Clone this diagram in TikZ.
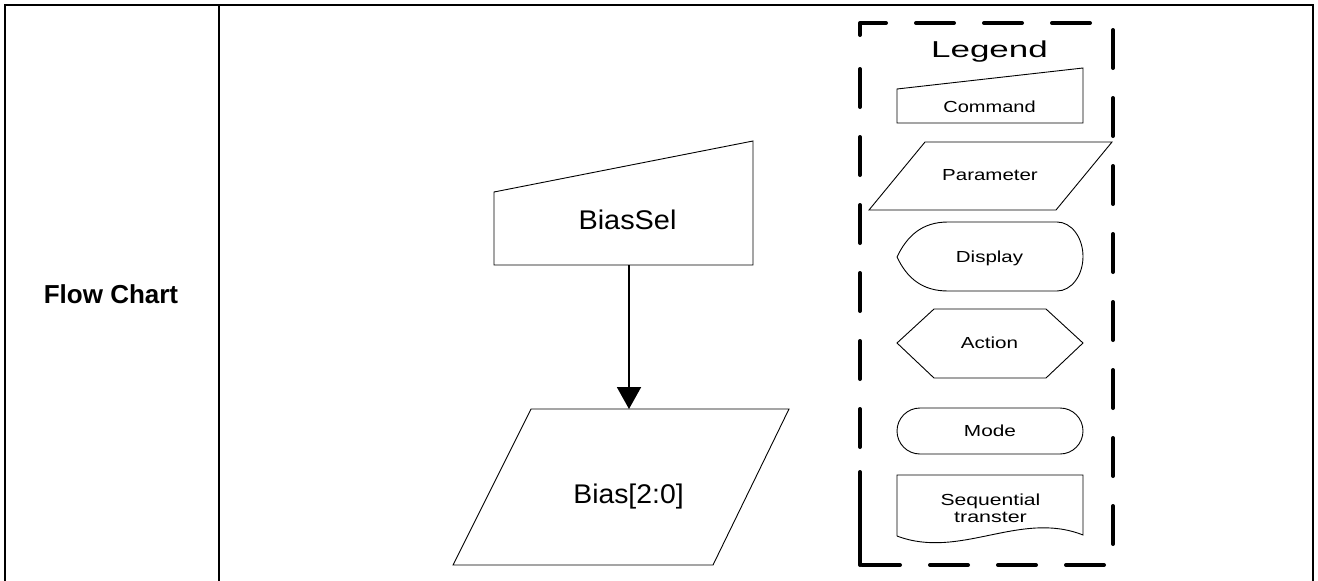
\documentclass[tikz,border=0pt]{standalone}
\usepackage{fontspec}
\setmainfont{Liberation Sans}
\usepackage{graphicx}
\usetikzlibrary{arrows.meta}
\begin{document}
\begin{tikzpicture}[x=1pt,y=-1pt,
  shapeline/.style={draw=black,line width=0.9pt,line join=miter},
  tableline/.style={draw=black,line width=2.4pt,line join=miter},
  lgbox/.style={draw=black,line width=4pt,line cap=round,line join=round,dash pattern=on 38pt off 30pt},
  lgsolid/.style={draw=black,line width=4pt,line cap=round},
  flowarrow/.style={draw=black,line width=2pt,-{Triangle[length=22pt,width=24pt]}},
  txt/.style={anchor=base,inner sep=0pt,outer sep=0pt},
  bigtxt/.style={txt,font=\fontsize{27}{27}\selectfont},
  smalltxt/.style={txt,font=\fontsize{16}{16}\selectfont},
  titletxt/.style={txt,font=\fontsize{23}{23}\selectfont},
  headtxt/.style={txt,font=\bfseries\fontsize{26}{26}\selectfont},
]
\useasboundingbox (0,0) rectangle (1318,581);
\fill[white] (0,0) rectangle (1318,581);

% table
\draw[tableline] (5,581) -- (5,5) -- (1313,5) -- (1313,581);
\draw[tableline] (219,5) -- (219,581);
\node[headtxt] (flowchart) at (111,303) {Flow Chart};

% main flow
\draw[shapeline] (494,192) -- (753,141) -- (753,265) -- (494,265) -- cycle;
\node[bigtxt] (biassel) at (627.5,229) {\scalebox{1.07}[1]{BiasSel}};
\draw[shapeline] (531,409) -- (789,409) -- (713,565) -- (453,565) -- cycle;
\node[bigtxt] (bias) at (628.5,503) {\scalebox{1.05}[1]{Bias[2:0]}};
\coordinate (bsbot) at (629,265);
\coordinate (btop) at (629,409);
\draw[flowarrow] (bsbot) -- (btop);

% legend box
\draw[lgbox] (860,35) -- (860,23) -- (1113,23) -- (1113,565) -- (860,565);
\draw[lgsolid] (860,565) -- (860,472);
\draw[lgbox] (860,447) -- (860,62);
\node[titletxt] (legend) at (989.5,57) {\scalebox{1.52}[1]{Legend}};

% command
\draw[shapeline] (897,89) -- (1083,68) -- (1083,123) -- (897,123) -- cycle;
\node[smalltxt] (cmd) at (989.5,112) {\scalebox{1.25}[1]{Command}};

% parameter
\draw[shapeline] (925,142) -- (1112,142) -- (1056,210) -- (869,210) -- cycle;
\node[smalltxt] (param) at (990,180) {\scalebox{1.28}[1]{Parameter}};

% display
\draw[shapeline] (897,257) .. controls (907,236) and (922,222) .. (948,222)
  -- (1057,222) arc[start angle=-90,end angle=90,x radius=26,y radius=34.5]
  -- (948,291) .. controls (922,291) and (907,278) .. cycle;
\node[smalltxt] (disp) at (989.5,262) {\scalebox{1.28}[1]{Display}};

% action
\draw[shapeline] (897,343) -- (934,309) -- (1046,309) -- (1083,343) -- (1046,378) -- (934,378) -- cycle;
\node[smalltxt] (act) at (989.5,348) {\scalebox{1.29}[1]{Action}};

% mode
\draw[shapeline,rounded corners=23pt] (897,408) rectangle (1083,454);
\node[smalltxt] (mode) at (990,436) {\scalebox{1.3}[1]{Mode}};

% sequential transfer
\draw[shapeline] (897,536) -- (897,475) -- (1083,475) -- (1083,535)
  .. controls (1020,510) and (960,560) .. (897,536);
\node[smalltxt] (seqa) at (990.5,505) {\scalebox{1.32}[1]{Sequential}};
\node[smalltxt] (seqb) at (990.5,522) {\scalebox{1.34}[1]{transter}};
\end{tikzpicture}
\end{document}
